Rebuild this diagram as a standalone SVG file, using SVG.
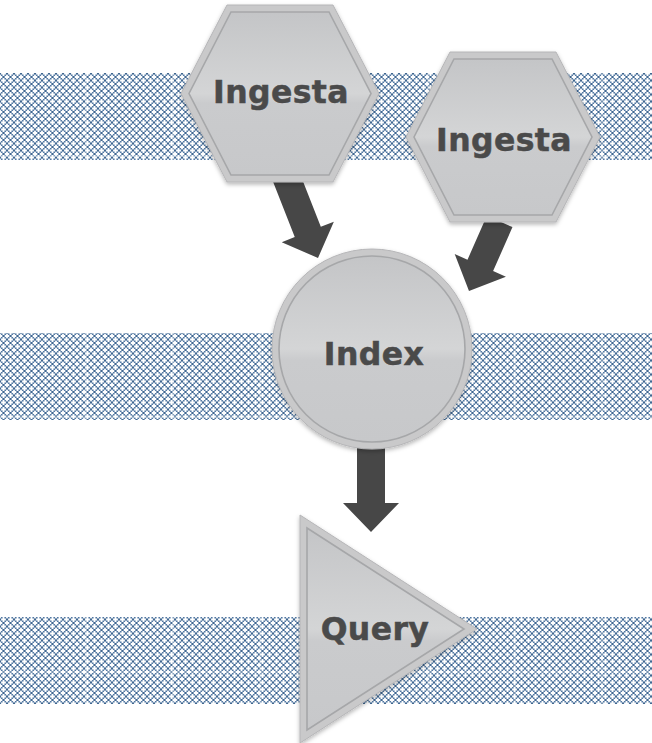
<svg xmlns="http://www.w3.org/2000/svg" width="652" height="743" viewBox="0 0 652 743">
  <style>
    .band { fill: url(#lattice); }
    .seam { stroke: #ffffff; stroke-width: 1; stroke-opacity: 0.6; }
    .rim { fill: #c9c9ca; stroke: #b6b6b8; stroke-width: 1; filter: url(#shadow); }
    .face { fill: url(#sheen); stroke: #a6a7a9; stroke-width: 1.6; }
    .arrow { fill: #474747; }
    .label { font-family: "DejaVu Sans", Verdana, sans-serif; font-weight: bold; font-size: 31.5px; fill: #4a4a4a; stroke: #4a4a4a; stroke-width: 0.5; text-anchor: middle; letter-spacing: 0.4px; }
  </style>
  <defs>
    <!-- blue lattice with white crosses -->
    <pattern id="lattice" width="7" height="7" patternUnits="userSpaceOnUse">
      <rect width="7" height="7" fill="#5379a3"/>
      <g stroke="#ffffff" stroke-width="1.8">
        <path d="M3.5 1.1v4.8M1.1 3.5h4.8"/>
        <path d="M0 -2.4v4.8M-2.4 0h4.8M7 -2.4v4.8M4.6 0h4.8M0 4.6v4.8M-2.4 7h4.8M7 4.6v4.8M4.6 7h4.8"/>
      </g>
      <circle cx="3.5" cy="0" r="1" fill="#3f668f"/>
      <circle cx="0" cy="3.5" r="1" fill="#3f668f"/>
      <circle cx="7" cy="3.5" r="1" fill="#3f668f"/>
      <circle cx="3.5" cy="7" r="1" fill="#3f668f"/>
    </pattern>
    <linearGradient id="sheen" x1="0" y1="0" x2="0" y2="1">
      <stop offset="0" stop-color="#c4c5c7"/>
      <stop offset="0.5" stop-color="#d4d5d6"/>
      <stop offset="0.56" stop-color="#cacbcd"/>
      <stop offset="1" stop-color="#c7c8ca"/>
    </linearGradient>
    <filter id="shadow" x="-10%" y="-10%" width="120%" height="125%">
      <feDropShadow dx="0" dy="2" stdDeviation="2" flood-color="#000000" flood-opacity="0.28"/>
    </filter>
  </defs>

  <!-- patterned bands -->
  <g id="bands">
    <rect class="band" x="0" y="73" width="652" height="87"/>
    <rect class="band" x="0" y="333" width="652" height="87"/>
    <rect class="band" x="0" y="617" width="652" height="87"/>
    <g class="seam">
      <path d="M0 156h652M0 417h652M0 672h652"/>
      <path d="M86 73v87M173 73v87M260 73v87M347 73v87M428 73v87M515 73v87M602 73v87"/>
      <path d="M86 333v87M173 333v87M260 333v87M347 333v87M428 333v87M515 333v87M602 333v87"/>
      <path d="M86 617v87M173 617v87M260 617v87M347 617v87M428 617v87M515 617v87M602 617v87"/>
    </g>
  </g>

  <!-- block arrows -->
  <g id="connectors">
    <polygon class="arrow" transform="translate(318 258) rotate(68.6)" points="-88,-14 -28,-14 -28,-28 0,0 -28,28 -28,14 -88,14"/>
    <polygon class="arrow" transform="translate(469 291) rotate(113.8)" points="-76,-14 -28,-14 -28,-28 0,0 -28,28 -28,14 -76,14"/>
    <polygon class="arrow" transform="translate(371 532) rotate(90)" points="-84,-14 -29,-14 -29,-28 0,0 -29,28 -29,14 -84,14"/>
  </g>

  <g id="ingesta-1">
    <polygon class="rim" points="181,93.5 227,5 333,5 379,93.5 333,182 227,182"/>
    <polygon class="face" points="189,93.5 231,12 329,12 371,93.5 329,175 231,175"/>
    <text class="label" x="281" y="103">Ingesta</text>
  </g>

  <g id="ingesta-2">
    <polygon class="rim" points="406,137 450,52 556,52 600,137 556,222 450,222"/>
    <polygon class="face" points="414,137 454,59 552,59 592,137 552,215 454,215"/>
    <text class="label" x="504" y="151">Ingesta</text>
  </g>

  <g id="index">
    <circle class="rim" cx="372" cy="349" r="100"/>
    <circle class="face" cx="372" cy="349" r="93"/>
    <text class="label" x="374" y="365">Index</text>
  </g>

  <g id="query">
    <polygon class="rim" points="300,515 477,629 300,743"/>
    <polygon class="face" points="307,528 464,629 307,730"/>
    <text class="label" x="375" y="640">Query</text>
  </g>
</svg>
